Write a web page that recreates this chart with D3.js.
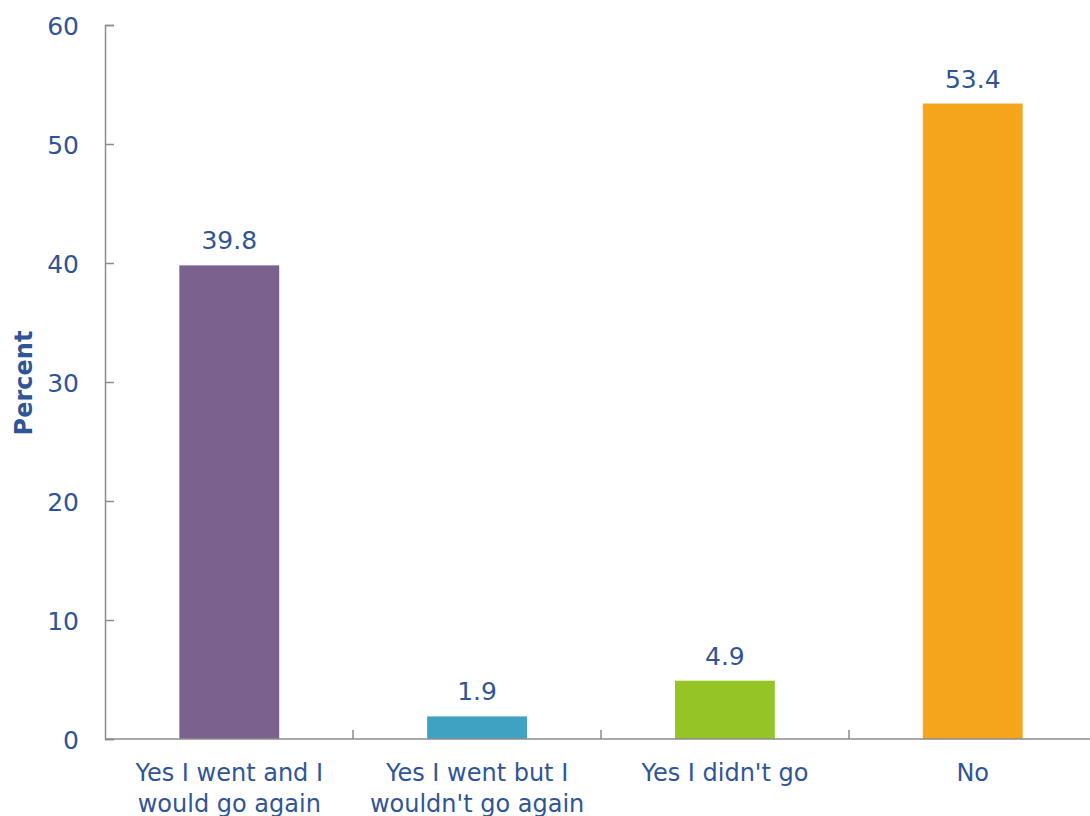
<!DOCTYPE html>
<html>
<head>
<meta charset="utf-8">
<script src="https://cdn.jsdelivr.net/npm/d3@7"></script>
<style>
  body { margin: 0; background: #fff; }
  svg { display: block; overflow: hidden; }
  text { font-family: "DejaVu Sans", sans-serif; fill: #2F5597; }
</style>
</head>
<body>
<svg id="chart" width="1090" height="816"></svg>
<script>
// chart data
var categories = [
  ["Yes I went and I", "would go again"],
  ["Yes I went but I", "wouldn't go again"],
  ["Yes I didn't go"],
  ["No"]
];
var values = [39.8, 1.9, 4.9, 53.4];
var colors = ["#7B618D", "#40A2C2", "#94C426", "#F4A51C"];
var yTicks = [0, 10, 20, 30, 40, 50, 60];

var svg = d3.select("#chart");
var plotLeft = 105, plotRight = 1097, plotTop = 25, plotBottom = 739;

var x = d3.scaleBand()
  .domain(d3.range(categories.length))
  .range([plotLeft, plotRight])
  .paddingInner(0.597)
  .paddingOuter(0.3);

// ticks on the x axis sit between the bands
var xEdge = d3.scaleLinear().domain([0, categories.length]).range([plotLeft, plotRight]);

var y = d3.scaleLinear().domain([0, 60]).range([plotBottom, plotTop]);

var axisColor = "#8C8C8C";

// y axis, ticks point inward
var yAxis = svg.append("g")
  .attr("transform", "translate(" + plotLeft + ",0)")
  .call(d3.axisRight(y).tickValues(yTicks).tickSize(9).tickFormat(d3.format("d")));
yAxis.select(".domain").attr("stroke", axisColor).attr("stroke-width", 1.5);
yAxis.selectAll(".tick line").attr("stroke", axisColor).attr("stroke-width", 1.5);
yAxis.selectAll(".tick text")
  .attr("x", -26)
  .attr("dy", "0.36em")
  .attr("text-anchor", "end")
  .style("font-size", "25px")
  .attr("fill", "#2F5597");

// bars
svg.selectAll("rect.bar")
  .data(values)
  .join("rect")
    .attr("class", "bar")
    .attr("x", function(d, i) { return x(i); })
    .attr("y", function(d) { return y(d); })
    .attr("width", x.bandwidth())
    .attr("height", function(d) { return y(0) - y(d); })
    .attr("fill", function(d, i) { return colors[i]; });

// x axis line and tick marks
svg.append("line")
  .attr("x1", plotLeft).attr("x2", plotRight)
  .attr("y1", plotBottom).attr("y2", plotBottom)
  .attr("stroke", axisColor).attr("stroke-width", 1.5);

svg.selectAll("line.xtick")
  .data(d3.range(1, categories.length + 1))
  .join("line")
    .attr("class", "xtick")
    .attr("x1", function(d) { return xEdge(d); })
    .attr("x2", function(d) { return xEdge(d); })
    .attr("y1", plotBottom).attr("y2", plotBottom - 9)
    .attr("stroke", axisColor).attr("stroke-width", 1.5);

// value labels
svg.selectAll("text.value")
  .data(values)
  .join("text")
    .attr("class", "value")
    .attr("x", function(d, i) { return x(i) + x.bandwidth() / 2; })
    .attr("y", function(d) { return y(d) - 16; })
    .attr("text-anchor", "middle")
    .style("font-size", "25px")
    .text(function(d) { return d3.format(".1f")(d); });

// category labels
var cat = svg.selectAll("text.cat")
  .data(categories)
  .join("text")
    .attr("class", "cat")
    .attr("text-anchor", "middle")
    .style("font-size", "24px")
    .attr("transform", function(d, i) { return "translate(" + (x(i) + x.bandwidth() / 2) + ",781)"; });
cat.selectAll("tspan")
  .data(function(d) { return d; })
  .join("tspan")
    .attr("x", 0)
    .attr("dy", function(d, i) { return i === 0 ? 0 : 31; })
    .text(function(d) { return d; });

// y title
svg.append("text")
  .attr("transform", "translate(32,383) rotate(-90)")
  .attr("text-anchor", "middle")
  .style("font-size", "24px")
  .style("font-weight", "bold")
  .text("Percent");
</script>
</body>
</html>
